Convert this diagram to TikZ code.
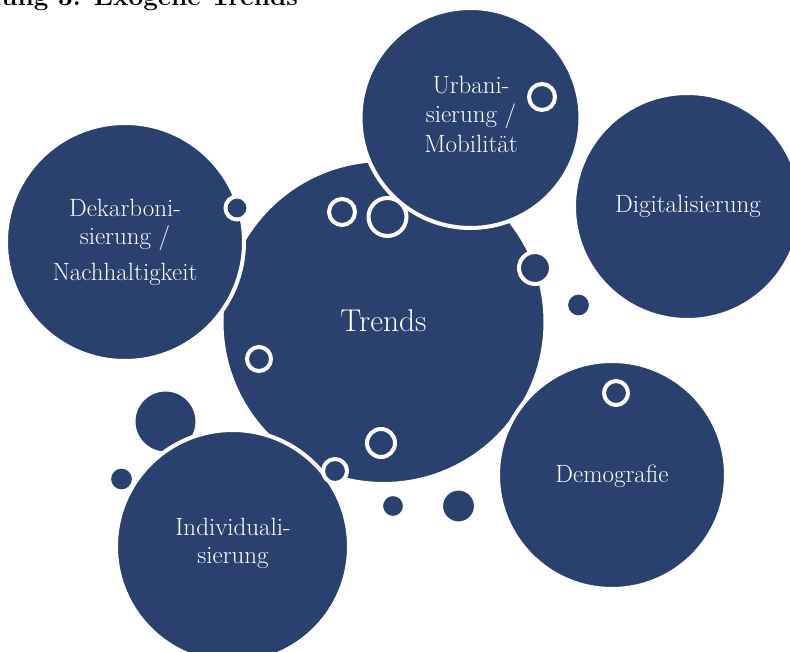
\documentclass[tikz,border=0pt]{standalone}
\definecolor{navy}{RGB}{42,65,112}
\tikzset{
  bubble/.style={circle, fill=navy, draw=white, line width=4pt, inner sep=0pt, outer sep=0pt},
  lbl/.style={text=white, font=\fontsize{25}{30}\selectfont, anchor=base, inner sep=0pt},
}
\begin{document}
\begin{tikzpicture}[x=1pt,y=-1pt]
\useasboundingbox (0,0) rectangle (790,652);
\clip (0,0) rectangle (790,652);
\node[font=\fontsize{26}{30}\selectfont\bfseries, anchor=base east, inner sep=0pt] (title) at (298,6) {Abbildung 3: Exogene Trends};
% big bubbles
\node[bubble, minimum size=324pt] (trends) at (383.5,322) {};
\node[bubble, minimum size=64pt] (b1) at (165.5,421.5) {};
\node[bubble, minimum size=238pt] (dek) at (125,242) {};
\node[bubble, minimum size=220pt] (urb) at (470.5,118) {};
\node[bubble, minimum size=233pt] (ind) at (232.5,546.5) {};
\node[bubble, minimum size=227pt] (dig) at (687.5,206.5) {};
\node[bubble, minimum size=228pt] (dem) at (612,475) {};
% small dots
\node[bubble, minimum size=25pt] (d1) at (121.5,479) {};
\node[bubble, minimum size=25pt] (d2) at (578.5,305) {};
\node[bubble, minimum size=24pt] (d3) at (393,506) {};
\node[bubble, minimum size=35pt] (d4) at (458.5,506) {};
\node[bubble, minimum size=23pt] (d5) at (237,208) {};
\node[bubble, minimum size=32pt] (d6) at (535,268) {};
% rings
\node[bubble, minimum size=26pt] (r1) at (342,212) {};
\node[bubble, minimum size=38pt] (r2) at (387.5,217) {};
\node[bubble, minimum size=26pt] (r3) at (542,97) {};
\node[bubble, minimum size=24pt] (r4) at (259,359) {};
\node[bubble, minimum size=24pt] (r5) at (616,393) {};
\node[bubble, minimum size=28pt] (r6) at (381,443) {};
\node[bubble, minimum size=24pt] (r7) at (335,471) {};
% labels
\node[lbl, font=\fontsize{31.5}{36}\selectfont] (tTrends) at (383.5,332) {Trends};
\node[lbl] (u1) at (471,94) {Urbani-};
\node[lbl] (u2) at (471,123) {sierung /};
\node[lbl] (u3) at (471,153) {Mobilität};
\node[lbl] (k1) at (125,217) {Dekarboni-};
\node[lbl] (k2) at (125,245) {sierung /};
\node[lbl] (k3) at (125,281) {Nachhaltigkeit};
\node[lbl] (g1) at (688,213) {Digitalisierung};
\node[lbl] (m1) at (612,482) {Demografie};
\node[lbl] (i1) at (233,535) {Individuali-};
\node[lbl] (i2) at (233,563) {sierung};
\end{tikzpicture}
\end{document}
